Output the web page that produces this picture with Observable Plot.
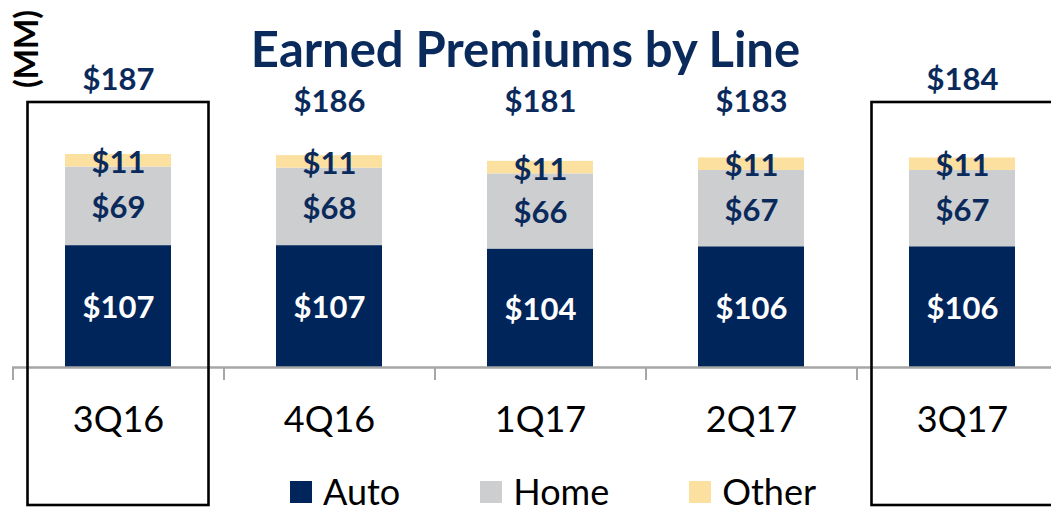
<!DOCTYPE html>
<html>
<head>
<meta charset="utf-8">
<script src="https://cdn.jsdelivr.net/npm/d3@7"></script>
<script src="https://cdn.jsdelivr.net/npm/@observablehq/plot@0.6"></script>
<style>
  html, body { margin: 0; padding: 0; background: #fff; }
  #wrap { position: relative; width: 1051px; height: 509px; overflow: hidden; font-family: Lato, "Open Sans", sans-serif; }
  #wrap svg { position: absolute; left: 0; top: 0; }
  #title { position: absolute; left: 0; width: 1051px; top: 24px; text-align: center; font-weight: 700; font-size: 49px; color: #0B2A5C; line-height: 1; }
  #unit { position: absolute; left: 26px; top: 49px; transform: translate(-50%, -50%) rotate(-90deg); font-weight: 700; font-size: 32px; color: #000; line-height: 1; white-space: nowrap; }
  #legend { position: absolute; top: 475px; left: 290px; display: flex; align-items: center; font-size: 36px; color: #000; line-height: 0.9; }
  #legend .item { display: flex; align-items: center; }
  #legend .sw { width: 22px; height: 22px; margin-right: 11px; margin-top: 2px; }
</style>
</head>
<body>
<div id="wrap">
  <div id="title"></div>
  <div id="unit"></div>
  <div id="legend"></div>
</div>
<script>
// ---- data ----
const quarters = ["3Q16", "4Q16", "1Q17", "2Q17", "3Q17"];
const series = ["Auto", "Home", "Other"];
const auto = [107, 107, 104, 106, 106];
const home = [69, 68, 66, 67, 67];
const other = [11, 11, 11, 11, 11];
const totals = [187, 186, 181, 183, 184];
const highlighted = ["3Q16", "3Q17"];
const colors = ["#00255A", "#CDCED0", "#FCE0A0"];
const titleText = "Earned Premiums by Line";
const unitText = "(MM)";

// ---- build table ----
const valuesBySeries = {Auto: auto, Home: home, Other: other};
const rows = [];
quarters.forEach((q, i) => {
  series.forEach(s => rows.push({quarter: q, series: s, value: valuesBySeries[s][i]}));
});
const totalRows = quarters.map((q, i) => ({quarter: q, total: totals[i], hl: highlighted.includes(q)}));

const navy = "#0B2A5C";
const font = "Lato, 'Open Sans', sans-serif";
const pxPerUnit = 1.139;
const base = 367;

const chart = Plot.plot({
  width: 1051,
  height: 509,
  marginTop: 0, marginBottom: 0, marginLeft: 12, marginRight: 0,
  style: {fontFamily: font, background: "transparent", overflow: "visible"},
  x: {type: "band", domain: quarters, range: [12, 1067], paddingInner: 0.5, paddingOuter: 0.25, axis: null},
  y: {domain: [0, 200], range: [base, base - 200 * pxPerUnit], axis: null},
  color: {domain: series, range: colors},
  marks: [
    Plot.barY(rows, {x: "quarter", y: "value", fill: "series", order: series}),
    // baseline and boundary ticks
    Plot.ruleY([0], {stroke: "#A6A6A6", strokeWidth: 2.5}),
    Plot.ruleX(quarters, {x: d => d, y1: 0, y2: -11.5, dx: -105.5, stroke: "#A6A6A6", strokeWidth: 2}),
    // highlight boxes
    Plot.cell(highlighted, {x: d => d, fill: "none", stroke: "#000", strokeWidth: 2.6,
      insetTop: 102, insetBottom: 4, insetLeft: -37.5, insetRight: -37.5}),
    // segment labels
    Plot.text(rows, Plot.stackY({
      x: "quarter", y: "value", z: "series", order: series,
      text: d => "$" + d.value,
      fill: d => d.series === "Auto" ? "#fff" : navy,
      dy: 2,
      fontSize: 31, fontWeight: 700
    })),
    // totals
    Plot.text(totalRows, {x: "quarter", text: d => "$" + d.total, frameAnchor: "top",
      lineAnchor: "middle", fill: navy, fontSize: 31, fontWeight: 700,
      filter: d => !d.hl, dy: 102}),
    Plot.text(totalRows, {x: "quarter", text: d => "$" + d.total, frameAnchor: "top",
      lineAnchor: "middle", fill: navy, fontSize: 31, fontWeight: 700,
      filter: d => d.hl, dy: 80}),
    // category labels
    Plot.text(quarters, {x: d => d, text: d => d, frameAnchor: "top", dy: 420,
      lineAnchor: "middle", fill: "#000", fontSize: 36})
  ]
});
document.getElementById("wrap").appendChild(chart);

document.getElementById("title").textContent = titleText;
document.getElementById("unit").textContent = unitText;
const legend = document.getElementById("legend");
series.forEach((s, i) => {
  const item = document.createElement("div");
  item.className = "item";
  if (i > 0) item.style.marginLeft = "80px";
  const sw = document.createElement("div");
  sw.className = "sw";
  sw.style.background = colors[i];
  const t = document.createElement("span");
  t.textContent = s;
  item.appendChild(sw);
  item.appendChild(t);
  legend.appendChild(item);
});
</script>
</body>
</html>
